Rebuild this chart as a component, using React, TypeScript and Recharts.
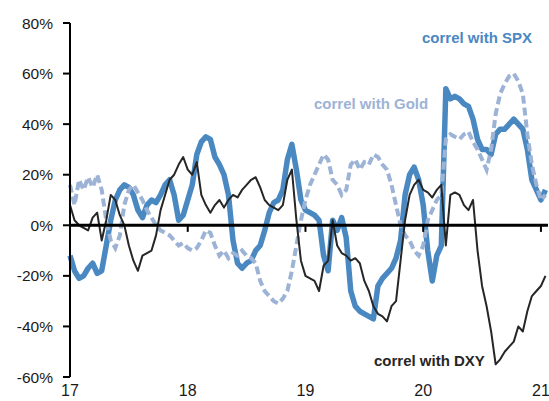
import React from 'react';
import { LineChart, Line, XAxis, YAxis, ReferenceLine } from 'recharts';

// time axis: one point every two weeks starting Jan 2017 (17 = 2017)
const START_YEAR = 17;
const POINTS_PER_YEAR = 26;

const spx = [
  -12, -18, -21, -20, -17, -15, -19, -18, -8, 2,
  10, 14, 16, 15, 12, 6, 3, 8, 10, 9,
  12, 16, 18, 12, 2, 4, 10, 16, 28, 33,
  35, 34, 27, 24, 20, 12, -6, -15, -17, -15,
  -14, -10, -8, -2, 5, 9, 10, 14, 26, 32,
  22, 10, 6, 5, 4, 2, -12, -18, 2, -2,
  3, -5, -26, -32, -34, -35, -36, -37, -24, -21,
  -19, -17, -13, -6, 12, 20, 23, 18, 8, -10,
  -22, -12, -8, 54, 50, 51, 50, 48, 47, 42,
  34, 30, 30, 28, 36, 38, 38, 40, 42, 40,
  38, 30, 18, 14, 10, 14,
];

const gold = [
  16, 8, 18, 14, 19, 15, 20, 14, 2, -6,
  -9, -4, 8, 14, 16, 13, 10, 6, 3, 0,
  -2, -3, -4, -6, -8, -7, -9, -10, -9, -6,
  -2, -3, -8, -12, -10, -13, -11, -12, -10, -12,
  -13, -15, -22, -26, -28, -30, -31, -29, -26, -18,
  -8, 2, 10, 16, 20, 24, 28, 26, 18, 16,
  12, 14, 24, 26, 22, 25, 24, 28, 27, 24,
  22, 16, 8, 0, -4, -6, -10, -12, -8, 2,
  6, 10, 12, 34, 36, 35, 34, 36, 37, 33,
  30, 26, 22, 30, 44, 52, 56, 59, 60, 57,
  52, 36, 24, 16, 10, 12,
];

const dxy = [
  8, 2, 0, -1, -2, 3, 5, -6, 2, 12,
  10, 4, 0, -8, -14, -18, -12, -11, -10, -4,
  6, 12, 18, 20, 24, 27, 22, 20, 25, 12,
  8, 5, 8, 10, 7, 10, 12, 11, 14, 16,
  18, 19, 15, 10, 8, 7, 6, 8, 18, 22,
  2, -14, -20, -21, -22, -26, -16, -14, 2, -8,
  -11, -12, -14, -13, -15, -22, -26, -32, -35, -36,
  -38, -32, -30, -14, 2, 12, 16, 18, 14, 13,
  11, 14, 16, -8, 12, 13, 12, 8, 6, 10,
  -10, -24, -32, -42, -55, -53, -50, -48, -46, -40,
  -42, -34, -28, -26, -24, -20,
];

const yearTicks = [17, 18, 19, 20, 21];
const pctTicks = [-60, -40, -20, 0, 20, 40, 60, 80];

const data = spx.map((v, i) => ({
  t: START_YEAR + i / POINTS_PER_YEAR,
  spx: v,
  gold: gold[i],
  dxy: dxy[i],
}));

const SPX_COLOR = '#4a88c2';
const GOLD_COLOR = '#9cb3d5';
const DXY_COLOR = '#262626';
const FONT = '"Liberation Sans", Arial, sans-serif';

export default function App() {
  return (
    <div style={{ position: 'absolute', left: 0, top: 0, width: 549, height: 401, background: '#fff' }}>
      <LineChart width={549} height={401} data={data} margin={{ top: 23, right: 1, bottom: 0, left: 0 }}>
        <XAxis
          type="number"
          dataKey="t"
          domain={[17, 21.06]}
          ticks={yearTicks}
          axisLine={false}
          tickLine={false}
          tickSize={0}
          tickMargin={8}
          height={24}
          interval={0}
          tick={{ fill: '#1a1a1a', fontSize: 16, fontFamily: FONT }}
        />
        <YAxis
          domain={[-60, 80]}
          ticks={pctTicks}
          width={70}
          interval={0}
          tickFormatter={(v) => `${v}%`}
          axisLine={{ stroke: '#000', strokeWidth: 2 }}
          tickLine={{ stroke: '#000', strokeWidth: 2 }}
          tickSize={7}
          tickMargin={10}
          tick={{ fill: '#1a1a1a', fontSize: 15.5, fontFamily: FONT }}
        />
        <Line type="linear" dataKey="spx" stroke={SPX_COLOR} strokeWidth={5.5} dot={false} strokeLinejoin="round" isAnimationActive={false} />
        <Line type="linear" dataKey="gold" stroke={GOLD_COLOR} strokeWidth={4} strokeDasharray="8 4" dot={false} isAnimationActive={false} />
        <Line type="linear" dataKey="dxy" stroke={DXY_COLOR} strokeWidth={2} dot={false} strokeLinejoin="round" isAnimationActive={false} />
        <ReferenceLine y={0} stroke="#000" strokeWidth={3} />
        {yearTicks.slice(1).map((yr) => (
          <ReferenceLine key={yr} segment={[{ x: yr, y: 0 }, { x: yr, y: -2.6 }]} stroke="#000" strokeWidth={2} />
        ))}
      </LineChart>
      <svg width={549} height={401} style={{ position: 'absolute', left: 0, top: 0, pointerEvents: 'none' }}>
        <text x={422} y={43} fill={SPX_COLOR} fontSize={15} fontWeight="bold" fontFamily={FONT}>correl with SPX</text>
        <text x={314} y={109} fill={GOLD_COLOR} fontSize={15} fontWeight="bold" fontFamily={FONT}>correl with Gold</text>
        <text x={374} y={366} fill={DXY_COLOR} fontSize={15} fontWeight="bold" fontFamily={FONT}>correl with DXY</text>
      </svg>
    </div>
  );
}
